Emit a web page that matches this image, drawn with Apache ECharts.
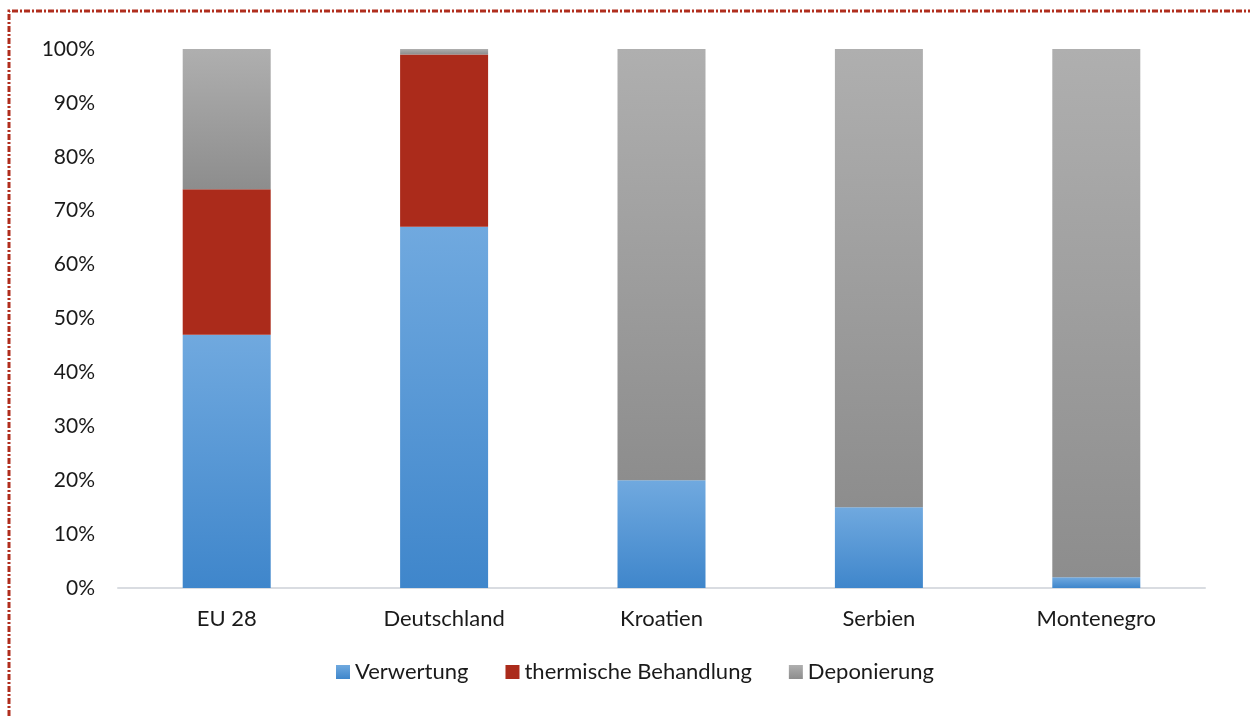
<!DOCTYPE html>
<html>
<head>
<meta charset="utf-8">
<script src="https://cdn.jsdelivr.net/npm/echarts@6/dist/echarts.min.js"></script>
<style>
  html, body { margin: 0; padding: 0; background: #ffffff; }
  #chart { width: 1250px; height: 718px; }
</style>
</head>
<body>
<div id="chart"></div>
<script>
// Abfallbehandlung nach Region (Anteile in %)
const categories = ['EU 28', 'Deutschland', 'Kroatien', 'Serbien', 'Montenegro'];
const verwertung = [47, 67, 20, 15, 2];
const thermisch = [27, 32, 0, 0, 0];
const deponierung = [26, 1, 80, 85, 98];
const seriesNames = ['Verwertung', 'thermische Behandlung', 'Deponierung'];

const FONT = 'Lato, "Open Sans", sans-serif';

function grad(top, bottom) {
  return new echarts.graphic.LinearGradient(0, 0, 0, 1, [
    { offset: 0, color: top },
    { offset: 1, color: bottom }
  ]);
}

const blue = grad('#70a9df', '#3f86cb');
const red = '#ab2b1b';
const gray = grad('#afafaf', '#8d8d8d');

const chart = echarts.init(document.getElementById('chart'), null, { renderer: 'canvas' });

function stackSeries(name, data, color) {
  return {
    name: name,
    type: 'bar',
    stack: 'total',
    barWidth: 88,
    data: data,
    itemStyle: { color: color },
    emphasis: { disabled: true }
  };
}

chart.setOption({
  animation: false,
  graphic: [
    {
      type: 'polyline',
      shape: { points: [[9, 800], [9, 11], [1300, 11]] },
      style: { stroke: '#b02e1e', lineWidth: 3, lineDash: [6, 2, 2, 2], fill: null },
      silent: true
    }
  ],
  grid: { left: 118, right: 45, top: 49, bottom: 130 },
  legend: {
    left: 331,
    top: 656,
    icon: 'rect',
    itemWidth: 14,
    itemHeight: 14,
    itemGap: 37,
    data: seriesNames,
    textStyle: { fontFamily: FONT, fontSize: 22, color: '#1a1a1a' }
  },
  xAxis: {
    type: 'category',
    data: categories,
    axisLine: { lineStyle: { color: '#d9dce1', width: 2 } },
    axisTick: { show: false },
    axisLabel: { fontFamily: FONT, fontSize: 22, color: '#1a1a1a', margin: 20 }
  },
  yAxis: {
    type: 'value',
    min: 0,
    max: 100,
    interval: 10,
    splitLine: { show: false },
    axisLine: { show: false },
    axisTick: { show: false },
    axisLabel: {
      fontFamily: FONT, fontSize: 21, color: '#1a1a1a', margin: 23,
      formatter: v => v + '%'
    }
  },
  series: [
    stackSeries(seriesNames[0], verwertung, blue),
    stackSeries(seriesNames[1], thermisch, red),
    stackSeries(seriesNames[2], deponierung, gray)
  ]
});
</script>
</body>
</html>
